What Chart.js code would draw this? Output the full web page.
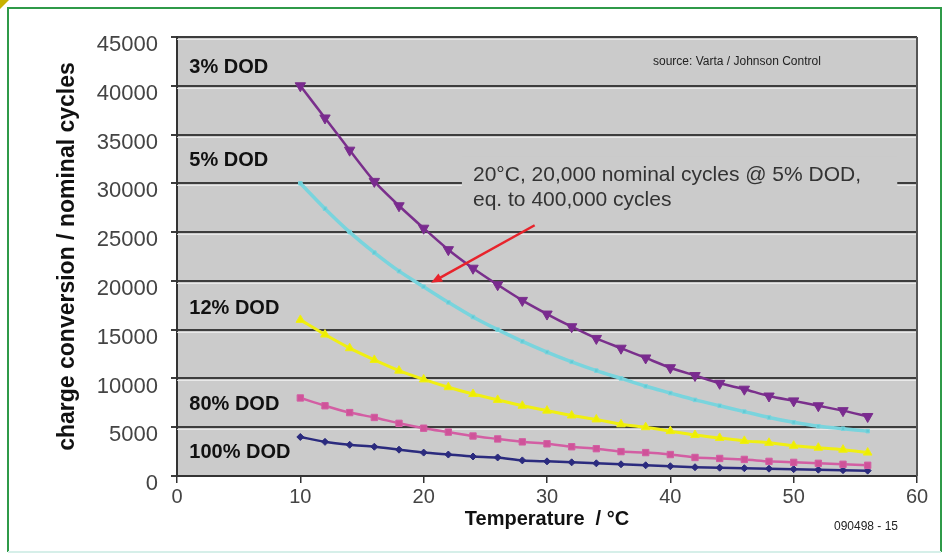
<!DOCTYPE html>
<html>
<head>
<meta charset="utf-8">
<script src="https://cdn.jsdelivr.net/npm/chart.js@4/dist/chart.umd.min.js"></script>
<style>
  html, body { margin: 0; padding: 0; background: #fff; }
  #wrap { width: 947px; height: 558px; position: relative; }
</style>
</head>
<body>
<div id="wrap"><canvas id="cycleChart"></canvas></div>
<script>
// temperatures (°C) and cycles per depth of discharge
const temps  = [10, 12, 14, 16, 18, 20, 22, 24, 26, 28, 30, 32, 34, 36, 38, 40, 42, 44, 46, 48, 50, 52, 54, 56];
const dod3   = [40000, 36700, 33400, 30200, 27700, 25400, 23200, 21300, 19600, 18000, 16600, 15300, 14100, 13100, 12100, 11100, 10300, 9500, 8900, 8200, 7700, 7200, 6700, 6100];
const dod5   = [30000, 27400, 25000, 22900, 21000, 19400, 17800, 16300, 15000, 13800, 12700, 11700, 10800, 10000, 9200, 8500, 7800, 7200, 6600, 6000, 5500, 5100, 4850, 4600];
const dod12  = [16000, 14500, 13100, 11900, 10800, 9900, 9100, 8400, 7800, 7200, 6700, 6200, 5800, 5300, 5000, 4600, 4200, 3900, 3600, 3400, 3100, 2900, 2700, 2400];
const dod80  = [8000, 7200, 6500, 6000, 5400, 4900, 4500, 4100, 3800, 3500, 3300, 3000, 2800, 2500, 2400, 2200, 1900, 1800, 1700, 1500, 1400, 1300, 1200, 1100];
const dod100 = [4000, 3500, 3200, 3000, 2700, 2400, 2200, 2000, 1900, 1600, 1500, 1400, 1300, 1200, 1100, 1000, 900, 850, 800, 750, 700, 650, 600, 550];
const yTicks = [0, 5000, 10000, 15000, 20000, 25000, 30000, 35000, 40000, 45000];
const xTicks = [0, 10, 20, 30, 40, 50, 60];

const seriesLabels = ['3% DOD', '5% DOD', '12% DOD', '80% DOD', '100% DOD'];
// where each curve label sits, in axis units
const labelAt = [[1, 41900], [1, 32300], [1, 17200], [1, 7300], [1, 2450]];

const FONT = "'Liberation Sans', Arial, sans-serif";
const NARROW = "'Liberation Sans Narrow', 'Liberation Sans', Arial, sans-serif";

const pts = arr => temps.map((t, i) => ({ x: t, y: arr[i] }));

const frame = {
  id: 'frame',
  beforeDraw(chart) {
    const { ctx, chartArea: a } = chart;
    ctx.save();
    ctx.fillStyle = '#cbcbcb';
    ctx.fillRect(a.left, a.top, a.right - a.left, a.bottom - a.top);
    // outer green frame
    ctx.strokeStyle = '#2f9a48';
    ctx.lineWidth = 2;
    ctx.beginPath();
    ctx.moveTo(8, 552); ctx.lineTo(8, 8); ctx.lineTo(941, 8); ctx.lineTo(941, 552);
    ctx.stroke();
    ctx.strokeStyle = '#d6efe9';
    ctx.beginPath(); ctx.moveTo(8, 552); ctx.lineTo(941, 552); ctx.stroke();
    ctx.fillStyle = '#c9b200';
    ctx.beginPath(); ctx.moveTo(0, 0); ctx.lineTo(9, 0); ctx.lineTo(0, 9); ctx.fill();
    ctx.restore();
  },
  beforeDatasetsDraw(chart) {
    const { ctx, chartArea: a, scales: { x, y } } = chart;
    ctx.save();
    // soft highlight under each grid line
    ctx.strokeStyle = 'rgba(240,240,240,0.8)';
    ctx.lineWidth = 1;
    yTicks.forEach(v => {
      const py = Math.round(y.getPixelForValue(v)) + 2.5;
      if (py < a.bottom) { ctx.beginPath(); ctx.moveTo(a.left, py); ctx.lineTo(a.right, py); ctx.stroke(); }
    });
    // right border
    ctx.strokeStyle = '#555';
    ctx.lineWidth = 2;
    ctx.beginPath(); ctx.moveTo(a.right, a.top); ctx.lineTo(a.right, a.bottom); ctx.stroke();

    // annotation box covering the grid line
    const bx = x.getPixelForValue(23.1), by = y.getPixelForValue(32800);
    ctx.fillStyle = '#cbcbcb';
    ctx.fillRect(bx, by, x.getPixelForValue(58.4) - bx, y.getPixelForValue(27500) - by);
    ctx.fillStyle = '#333';
    ctx.font = '21px ' + FONT;
    ctx.textBaseline = 'middle';
    ctx.textAlign = 'left';
    ctx.fillText('20°C, 20,000 nominal cycles @ 5% DOD,', x.getPixelForValue(24), y.getPixelForValue(30800));
    ctx.fillText('eq. to 400,000 cycles', x.getPixelForValue(24), y.getPixelForValue(28300));

    ctx.fillStyle = '#222';
    ctx.font = '12px ' + FONT;
    ctx.textAlign = 'center';
    ctx.fillText('source: Varta / Johnson Control', x.getPixelForValue(45.4), y.getPixelForValue(42500));

    ctx.fillStyle = '#111';
    ctx.font = 'bold 20px ' + FONT;
    ctx.textAlign = 'left';
    seriesLabels.forEach((s, i) => {
      ctx.fillText(s, x.getPixelForValue(labelAt[i][0]), y.getPixelForValue(labelAt[i][1]));
    });
    ctx.restore();
  },
  afterDatasetsDraw(chart) {
    const { ctx, scales: { x, y } } = chart;
    const x0 = x.getPixelForValue(29), y0 = y.getPixelForValue(25700);
    const x1 = x.getPixelForValue(20.6), y1 = y.getPixelForValue(19800);
    const ang = Math.atan2(y1 - y0, x1 - x0);
    ctx.save();
    ctx.strokeStyle = '#e8232b';
    ctx.fillStyle = '#e8232b';
    ctx.lineWidth = 2.5;
    ctx.beginPath(); ctx.moveTo(x0, y0); ctx.lineTo(x1 - 8 * Math.cos(ang), y1 - 8 * Math.sin(ang)); ctx.stroke();
    ctx.beginPath();
    ctx.moveTo(x1, y1);
    ctx.lineTo(x1 - 12 * Math.cos(ang - 0.4), y1 - 12 * Math.sin(ang - 0.4));
    ctx.lineTo(x1 - 12 * Math.cos(ang + 0.4), y1 - 12 * Math.sin(ang + 0.4));
    ctx.closePath(); ctx.fill();

    ctx.fillStyle = '#222';
    ctx.font = '12px ' + FONT;
    ctx.textAlign = 'center';
    ctx.textBaseline = 'middle';
    ctx.fillText('090498 - 15', 866, 527);
    ctx.restore();
  }
};

new Chart(document.getElementById('cycleChart'), {
  type: 'line',
  data: {
    datasets: [
      { label: '3% DOD', data: pts(dod3), borderColor: '#7a2f8c', backgroundColor: '#7a2a90', borderWidth: 2.5,
        pointStyle: 'triangle', rotation: 180, pointRadius: 6, pointBorderWidth: 1 },
      { label: '5% DOD', data: pts(dod5), borderColor: '#79d4dd', backgroundColor: '#62c9d4', borderWidth: 3.5,
        pointStyle: 'rect', pointRadius: 2.5, pointBorderWidth: 1 },
      { label: '12% DOD', data: pts(dod12), borderColor: '#f0ef12', backgroundColor: '#eeee00', borderWidth: 3,
        pointStyle: 'triangle', pointRadius: 5, pointBorderWidth: 1 },
      { label: '80% DOD', data: pts(dod80), borderColor: '#d35ea3', backgroundColor: '#cf5399', borderWidth: 2.5,
        pointStyle: 'rect', pointRadius: 4.5, pointBorderWidth: 1 },
      { label: '100% DOD', data: pts(dod100), borderColor: '#2b2b7e', backgroundColor: '#2b2b7e', borderWidth: 2.5,
        pointStyle: 'rectRot', pointRadius: 3.5, pointBorderWidth: 1 }
    ]
  },
  options: {
    responsive: true,
    maintainAspectRatio: false,
    animation: false,
    elements: { line: { tension: 0.25 } },
    layout: { padding: { left: 50, top: 37, right: 30, bottom: 23 } },
    plugins: { legend: { display: false }, tooltip: { enabled: false } },
    scales: {
      x: {
        type: 'linear', min: 0, max: 60,
        afterBuildTicks: s => { s.ticks = xTicks.map(v => ({ value: v })); },
        afterFit: s => { s.height = 59; },
        grid: { drawOnChartArea: false, tickLength: 7, color: '#333', lineWidth: 1.5 },
        border: { color: '#333', width: 2 },
        ticks: { color: '#444', font: { family: NARROW, size: 20 }, padding: 2, maxRotation: 0 },
        title: { display: true, text: 'Temperature  / °C', color: '#111',
          font: { family: NARROW, size: 20, weight: 'bold' } }
      },
      y: {
        min: 0, max: 45000,
        afterBuildTicks: s => { s.ticks = yTicks.map(v => ({ value: v })); },
        afterFit: s => { s.width = 127; },
        grid: { color: '#3d3d3d', lineWidth: 2, tickLength: 6 },
        border: { color: '#333', width: 2 },
        ticks: { color: '#444', font: { family: FONT, size: 22 }, padding: 13, labelOffset: 8,
          callback: v => String(v) },
        title: { display: true, text: 'charge conversion / nominal cycles', color: '#111',
          font: { family: FONT, size: 23, weight: 'bold' } }
      }
    }
  },
  plugins: [frame]
});
</script>
</body>
</html>
